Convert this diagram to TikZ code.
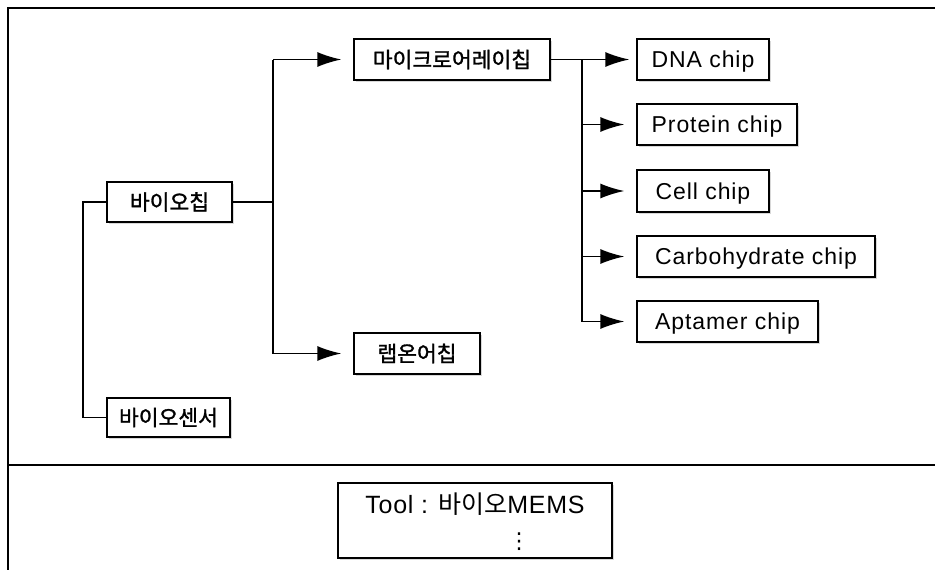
\documentclass[tikz,border=0pt]{standalone}
\usepackage{fontspec}
\usetikzlibrary{arrows.meta,shadows}
\newfontfamily\latf{Liberation Sans}[LetterSpace=4]
\newfontfamily\plainf{Liberation Sans}[LetterSpace=3]
\newfontfamily\krb{Noto Sans CJK KR}[FakeBold=1.3]
\newfontfamily\krf{Noto Sans CJK KR}
\newfontfamily\dvs{DejaVu Sans}
\tikzset{
  box/.style={draw, line width=1.3pt, inner sep=0pt, minimum height=41pt, fill=white,
    drop shadow={shadow xshift=1.5pt, shadow yshift=-2pt, fill=black!30}},
  krl/.style={box, font=\krb\fontsize{21.5}{24}\selectfont},
  enl/.style={box, font=\latf\fontsize{23}{26}\selectfont, text height=16.5pt, text depth=0pt},
  ln/.style={line width=1.6pt},
  arr/.style={ln, -{Latex[length=24pt,width=15pt]}},
  frame/.style={line width=1.4pt}
}
\begin{document}
\begin{tikzpicture}[x=1pt,y=-1pt]
\useasboundingbox (0,0) rectangle (935,570);
% frame
\coordinate (f1) at (8,570);
\coordinate (f2) at (8,8);
\coordinate (f3) at (935,8);
\coordinate (d1) at (8,465);
\coordinate (d2) at (935,465);
\draw[frame] (f1) -- (f2) -- (f3);
\draw[frame] (d1) -- (d2);
% nodes
\node[krl, minimum width=125pt, minimum height=40pt] (bc) at (169.5,202) {바이오칩};
\node[krl, minimum width=123pt, minimum height=39pt] (bs) at (168.5,417.5) {바이오센서};
\node[krl, minimum width=196pt] (mc) at (452,59.5) {마이크로어레이칩};
\node[krl, minimum width=126pt] (lc) at (417,353.5) {랩온어칩};
\node[enl, minimum width=132pt] (dna) at (703,59.5) {DNA chip};
\node[enl, minimum width=160pt] (prot) at (717,124.5) {Protein chip};
\node[enl, minimum width=132pt, minimum height=42pt] (cell) at (703,191) {Cell chip};
\node[enl, minimum width=238pt] (carb) at (756,256.5) {Carbohydrate chip};
\node[enl, minimum width=181pt] (apt) at (727.5,321.5) {Aptamer chip};
\node[box, minimum width=274pt, minimum height=75pt] (tool) at (475,520.5) {};
\node[font=\plainf\fontsize{25}{28}\selectfont, inner sep=0pt] (tooltxt) at (475,504) {Tool : {\krf 바이오}MEMS};
\node[font=\dvs\fontsize{22}{24}\selectfont, inner sep=0pt] (tooldots) at (519,542) {⋮};
% left tree
\coordinate (lt) at (83,202);
\coordinate (lb) at (83,417.5);
\draw[ln] (bc.west) -- (lt) -- (lb) -- (bs.west);
% middle trunk
\coordinate (bcj) at (273,202);
\coordinate (mcj) at (273,59.5);
\coordinate (lcj) at (273,353.5);
\draw[ln] (bc.east) -- (bcj);
\draw[ln] (mcj) -- (lcj);
\draw[arr, shorten >=12pt] (mcj) -- (mc.west);
\draw[arr, shorten >=12pt] (lcj) -- (lc.west);
% right trunk
\coordinate (r1) at (582,59.5);
\coordinate (r2) at (582,124.5);
\coordinate (r3) at (582,191);
\coordinate (r4) at (582,256.5);
\coordinate (r5) at (582,321.5);
\draw[ln] (mc.east) -- (r1) -- (r5);
\draw[arr, shorten >=7pt] (r1) -- (dna.west);
\draw[arr, shorten >=12pt] (r2) -- (prot.west);
\draw[arr, shorten >=12pt] (r3) -- (cell.west);
\draw[arr, shorten >=12pt] (r4) -- (carb.west);
\draw[arr, shorten >=12pt] (r5) -- (apt.west);
\end{tikzpicture}
\end{document}
